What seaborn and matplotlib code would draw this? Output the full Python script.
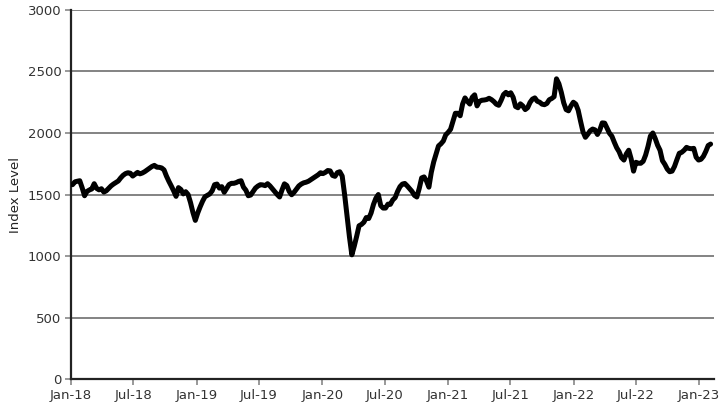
import numpy as np
import pandas as pd
import matplotlib
matplotlib.use("Agg")
import matplotlib.pyplot as plt
import matplotlib.dates as mdates
import seaborn as sns

# weekly index readings, first week ending 2018-01-05
start_date = "2018-01-05"
index_level = [
    1580, 1603, 1608, 1612, 1555, 1490, 1525, 1537, 1545, 1588,
    1550, 1538, 1547, 1520, 1530, 1550, 1570, 1585, 1597, 1610,
    1635, 1656, 1670, 1677, 1673, 1650, 1665, 1680, 1668, 1675,
    1686, 1700, 1713, 1728, 1737, 1722, 1721, 1716, 1700, 1650,
    1608, 1570, 1530, 1485, 1556, 1541, 1505, 1523, 1500, 1435,
    1355, 1290, 1350, 1400, 1445, 1482, 1493, 1505, 1530, 1580,
    1585, 1552, 1564, 1518, 1550, 1581, 1591, 1591, 1597, 1607,
    1612, 1560, 1535, 1490, 1496, 1524, 1553, 1569, 1580, 1578,
    1572, 1588, 1570, 1547, 1525, 1500, 1480, 1537, 1587, 1573,
    1525, 1498, 1518, 1544, 1570, 1585, 1595, 1600, 1608, 1621,
    1634, 1646, 1660, 1677, 1670, 1680, 1695, 1692, 1655, 1648,
    1678, 1685, 1650, 1500, 1325, 1157, 1010, 1080, 1160, 1246,
    1257, 1275, 1313, 1305, 1350, 1420, 1470, 1500, 1410, 1390,
    1390, 1422, 1420, 1456, 1475, 1525, 1564, 1585, 1590, 1570,
    1548, 1525, 1493, 1480, 1550, 1635, 1643, 1610, 1560, 1680,
    1765, 1830, 1895, 1912, 1935, 1985, 2005, 2030, 2095, 2160,
    2160, 2140, 2235, 2285, 2257, 2235, 2290, 2310, 2220, 2257,
    2266, 2268, 2272, 2282, 2271, 2255, 2234, 2225, 2265, 2312,
    2330, 2310, 2327, 2290, 2215, 2205, 2237, 2220, 2190, 2205,
    2248, 2275, 2285, 2258, 2250, 2234, 2230, 2240, 2270, 2280,
    2295, 2440, 2400, 2330, 2245, 2190, 2180, 2220, 2250, 2235,
    2185, 2095, 2010, 1965, 1990, 2018, 2032, 2025, 1988, 2025,
    2082, 2080, 2040, 1998, 1974, 1925, 1880, 1848, 1800, 1780,
    1830, 1860, 1790, 1690, 1762, 1754, 1754, 1770, 1820, 1890,
    1975, 2000, 1955, 1900, 1860, 1775, 1745, 1707, 1685, 1690,
    1728, 1783, 1835, 1843, 1860, 1883, 1875, 1872, 1875, 1803,
    1780, 1786, 1810, 1850, 1898, 1910,
]
y_ticks = [0, 500, 1000, 1500, 2000, 2500, 3000]
x_ticks = ["2018-01-01", "2018-07-01", "2019-01-01", "2019-07-01", "2020-01-01",
           "2020-07-01", "2021-01-01", "2021-07-01", "2022-01-01", "2022-07-01",
           "2023-01-01"]
x_tick_labels = ["Jan-18", "Jul-18", "Jan-19", "Jul-19", "Jan-20", "Jul-20",
                 "Jan-21", "Jul-21", "Jan-22", "Jul-22", "Jan-23"]

df = pd.DataFrame({
    "date": pd.date_range(start_date, periods=len(index_level), freq="W-FRI"),
    "level": index_level,
})

sns.set_theme(style="white")
plt.rcParams["font.family"] = ["DejaVu Sans"]

fig = plt.figure(figsize=(7.26, 4.13), dpi=100)
ax = fig.add_axes([0.098, 0.082, 0.886, 0.894])

for y in y_ticks[1:]:
    ax.axhline(y, color="#7a7a7a", linewidth=1.3, zorder=1)

sns.lineplot(data=df, x="date", y="level", ax=ax, color="black",
             linewidth=3.6, zorder=3)

ax.set_ylim(0, 3000)
ax.set_xlim(pd.Timestamp("2018-01-01"), pd.Timestamp("2023-02-14"))
ax.set_yticks(y_ticks)
ax.set_xticks(pd.to_datetime(x_ticks))
ax.set_xticklabels(x_tick_labels)
ax.set_xlabel("")
ax.set_ylabel("Index Level", fontsize=9.5, color="#222222", labelpad=4)

for side in ["top", "right"]:
    ax.spines[side].set_visible(False)
for side in ["left", "bottom"]:
    ax.spines[side].set_color("#222222")
    ax.spines[side].set_linewidth(1.6)

ax.tick_params(axis="both", which="major", direction="out", length=4,
               width=1.2, color="#888888", labelsize=9.5, labelcolor="#333333",
               left=True, bottom=True, pad=3)

fig.savefig("out.png", dpi=100)
